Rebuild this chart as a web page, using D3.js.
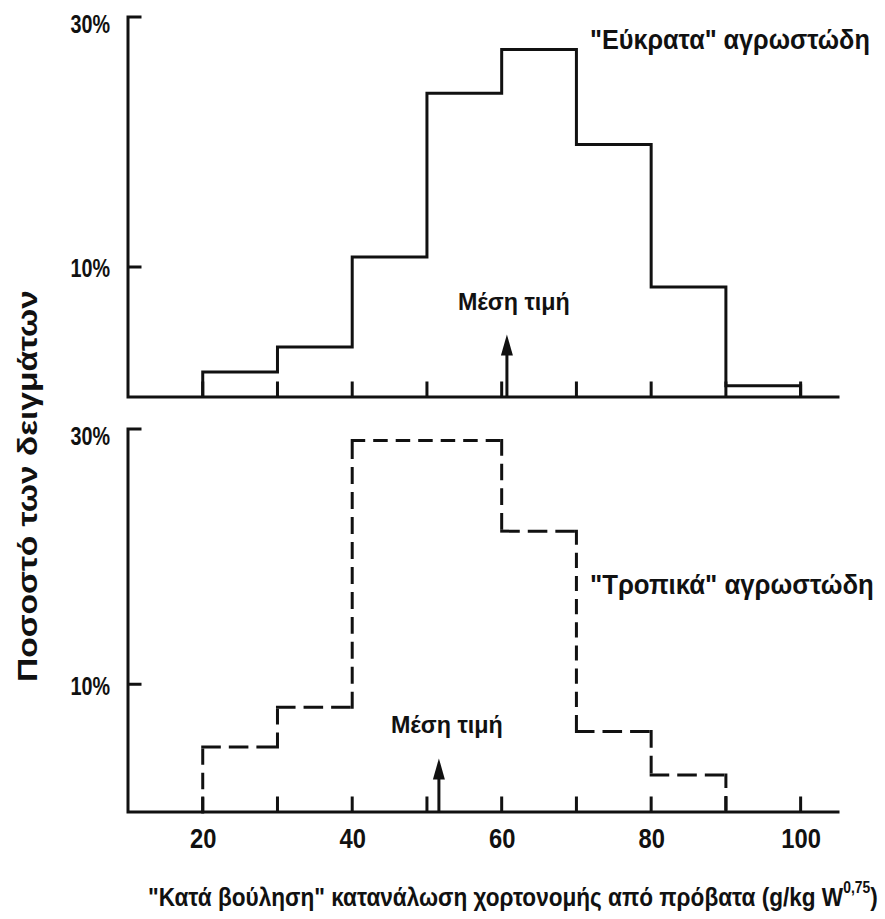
<!DOCTYPE html>
<html>
<head>
<meta charset="utf-8">
<script src="https://cdn.jsdelivr.net/npm/d3@7"></script>
<style>
    body { margin: 0; background: #fff; }
    text { font-family: "Liberation Sans", Arial, sans-serif; fill: #111; }
</style>
</head>
<body>
<svg id="chart" width="885" height="919"></svg>
<script>
// ─── Data ─────────────────────────────────────────────────────────────────────

const binEdges = [20, 30, 40, 50, 60, 70, 80, 90, 100];
// % of samples per 10-unit bin, starting at 20
const temperatePct = [1.6, 3.6, 10.8, 23.9, 27.4, 19.8, 8.4, 0.5];
const tropicalPct = [5.1, 8.2, 29.1, 29.1, 22.0, 6.3, 2.9];
const meanTemperate = 60.7;
const meanTropical = 51.6;

const xTicks = [20, 30, 40, 50, 60, 70, 80, 90, 100];
const xTickLabels = [20, 40, 60, 80, 100];
const yTicks = [10, 30];

const seriesLabels = ['"Εύκρατα" αγρωστώδη', '"Τροπικά" αγρωστώδη'];
const meanLabel = "Μέση τιμή";
const yTitle = "Ποσοστό των δειγμάτων";
const xTitle = '"Κατά βούληση" κατανάλωση χορτονομής από πρόβατα (g/kg W';
const xTitleSup = "0,75";

// ─── Scales ───────────────────────────────────────────────────────────────────

const svg = d3.select("#chart");
const ink = "#111";

const x = d3.scaleLinear().domain([10, 105]).range([128, 838]);
const yTop = d3.scaleLinear().domain([-0.4, 30]).range([397, 17]);
const yBot = d3.scaleLinear().domain([0, 30]).range([812, 429]);

// squeeze text horizontally (the scan uses a narrow typeface)
function squeeze(sel, k) {
    sel.each(function() {
        const w = this.getComputedTextLength();
        if (w > 0) d3.select(this).attr("textLength", w * k).attr("lengthAdjust", "spacingAndGlyphs");
    });
}

// place a text at (px, py) and scale it horizontally to a given width
function fitLabel(str, px, py, size, width) {
    const t = svg.append("text")
        .style("font-size", size + "px")
        .style("font-weight", "bold")
        .text(str);
    const w = t.node().getComputedTextLength();
    t.attr("transform", `translate(${px},${py}) scale(${width / w},1)`);
    return t;
}

function drawAxes(y, showXLabels) {
    const base = y.range()[0];
    const x0 = x.range()[0];

    // axis line plus inward tick stubs as one path
    const frame = d3.path();
    frame.moveTo(x0, y.range()[1]);
    frame.lineTo(x0, base);
    frame.lineTo(x.range()[1], base);
    xTicks.forEach(t => { frame.moveTo(x(t), base); frame.lineTo(x(t), base - 14); });
    yTicks.forEach(t => { frame.moveTo(x0, y(t)); frame.lineTo(x0 + 12, y(t)); });

    svg.append("path")
        .attr("class", "frame")
        .attr("d", frame.toString())
        .attr("fill", "none")
        .attr("stroke", ink)
        .attr("stroke-width", 3)
        .attr("stroke-linecap", "square");

    const gx = svg.append("g")
        .attr("transform", `translate(0,${base})`)
        .call(d3.axisBottom(x)
            .tickValues(xTicks)
            .tickSize(0)
            .tickPadding(17)
            .tickFormat(d => showXLabels && xTickLabels.includes(d) ? d : ""));

    const gy = svg.append("g")
        .attr("transform", `translate(${x0},0)`)
        .call(d3.axisLeft(y)
            .tickValues(yTicks)
            .tickSize(0)
            .tickPadding(18)
            .tickFormat(d => d + "%"));

    [gx, gy].forEach(g => {
        g.select(".domain").remove();
        g.selectAll(".tick text")
            .attr("fill", ink)
            .style("font-family", '"Liberation Sans", Arial, sans-serif')
            .style("font-weight", "bold");
    });

    gx.selectAll(".tick text").style("font-size", "27px");
    squeeze(gx.selectAll(".tick text"), 0.88);

    gy.selectAll(".tick text")
        .style("font-size", "26px")
        .attr("dy", d => d === 30 ? "0.6em" : "0.38em");
    squeeze(gy.selectAll(".tick text"), 0.76);
}

function stepPoints(vals, base) {
    const pts = [[binEdges[0], base]];
    vals.forEach((v, i) => {
        pts.push([binEdges[i], v]);
        pts.push([binEdges[i + 1], v]);
    });
    pts.push([binEdges[vals.length], base]);
    return pts;
}

function drawArrow(mean, tipPct, y, labelDx) {
    const ax = x(mean);
    const tip = y(tipPct);
    svg.append("line")
        .attr("x1", ax).attr("x2", ax)
        .attr("y1", y.range()[0]).attr("y2", tip + 12)
        .attr("stroke", ink).attr("stroke-width", 3);
    svg.append("path")
        .attr("d", `M${ax},${tip} L${ax - 6},${tip + 21} L${ax + 6},${tip + 21} Z`)
        .attr("fill", ink);
    fitLabel(meanLabel, ax + labelDx - 56, tip - 25, 23, 112);
}

// ─── Top panel: temperate grasses (solid) ─────────────────────────────────────

drawAxes(yTop, false);

svg.append("path")
    .datum(stepPoints(temperatePct, yTop.domain()[0]))
    .attr("d", d3.line().x(d => x(d[0])).y(d => yTop(d[1])))
    .attr("fill", "none")
    .attr("stroke", ink)
    .attr("stroke-width", 3)
    .attr("stroke-linejoin", "miter");

drawArrow(meanTemperate, 4.6, yTop, 7);

fitLabel(seriesLabels[0], 590, 49, 27, 280);

// ─── Bottom panel: tropical grasses (dashed) ──────────────────────────────────

drawAxes(yBot, true);

// drop repeated / collinear points so each straight run is one dashed segment
let tropPts = stepPoints(tropicalPct, 0).filter((p, i, a) =>
    i === 0 || p[0] !== a[i - 1][0] || p[1] !== a[i - 1][1]);
tropPts = tropPts.filter((p, i, a) => {
    if (i === 0 || i === a.length - 1) return true;
    const prev = a[i - 1], next = a[i + 1];
    return !((prev[1] === p[1] && p[1] === next[1]) || (prev[0] === p[0] && p[0] === next[0]));
});

const dash = 16, gap = 8;
d3.pairs(tropPts).forEach(([a, b]) => {
    const x1 = x(a[0]), y1 = yBot(a[1]), x2 = x(b[0]), y2 = yBot(b[1]);
    const len = Math.hypot(x2 - x1, y2 - y1);
    const n = Math.max(1, Math.round((len + gap) / (dash + gap)));
    const d = (len - (n - 1) * gap) / n;
    svg.append("line")
        .attr("x1", x1).attr("y1", y1).attr("x2", x2).attr("y2", y2)
        .attr("stroke", ink)
        .attr("stroke-width", 3)
        .attr("stroke-linecap", "square")
        .attr("stroke-dasharray", n > 1 ? `${Math.max(d - 3, 1)},${gap + 3}` : null);
});

drawArrow(meanTropical, 4.2, yBot, 8);

fitLabel(seriesLabels[1], 590, 594, 27, 284);

// ─── Axis titles ──────────────────────────────────────────────────────────────

svg.append("text")
    .attr("transform", "translate(37,486) rotate(-90)")
    .attr("text-anchor", "middle")
    .style("font-size", "27px")
    .style("font-weight", "bold")
    .attr("textLength", 392)
    .attr("lengthAdjust", "spacingAndGlyphs")
    .text(yTitle);

const xt = svg.append("g").attr("transform", "translate(148,906)");
const xtText = xt.append("text")
    .style("font-size", "26px")
    .style("font-weight", "bold");
xtText.append("tspan").text(xTitle);
xtText.append("tspan").attr("dy", -13).style("font-size", "16px").text(xTitleSup);
xtText.append("tspan").attr("dy", 13).text(")");
const xtWidth = xtText.node().getBBox().width;
xtText.attr("transform", `scale(${730 / xtWidth},1)`);
</script>
</body>
</html>
